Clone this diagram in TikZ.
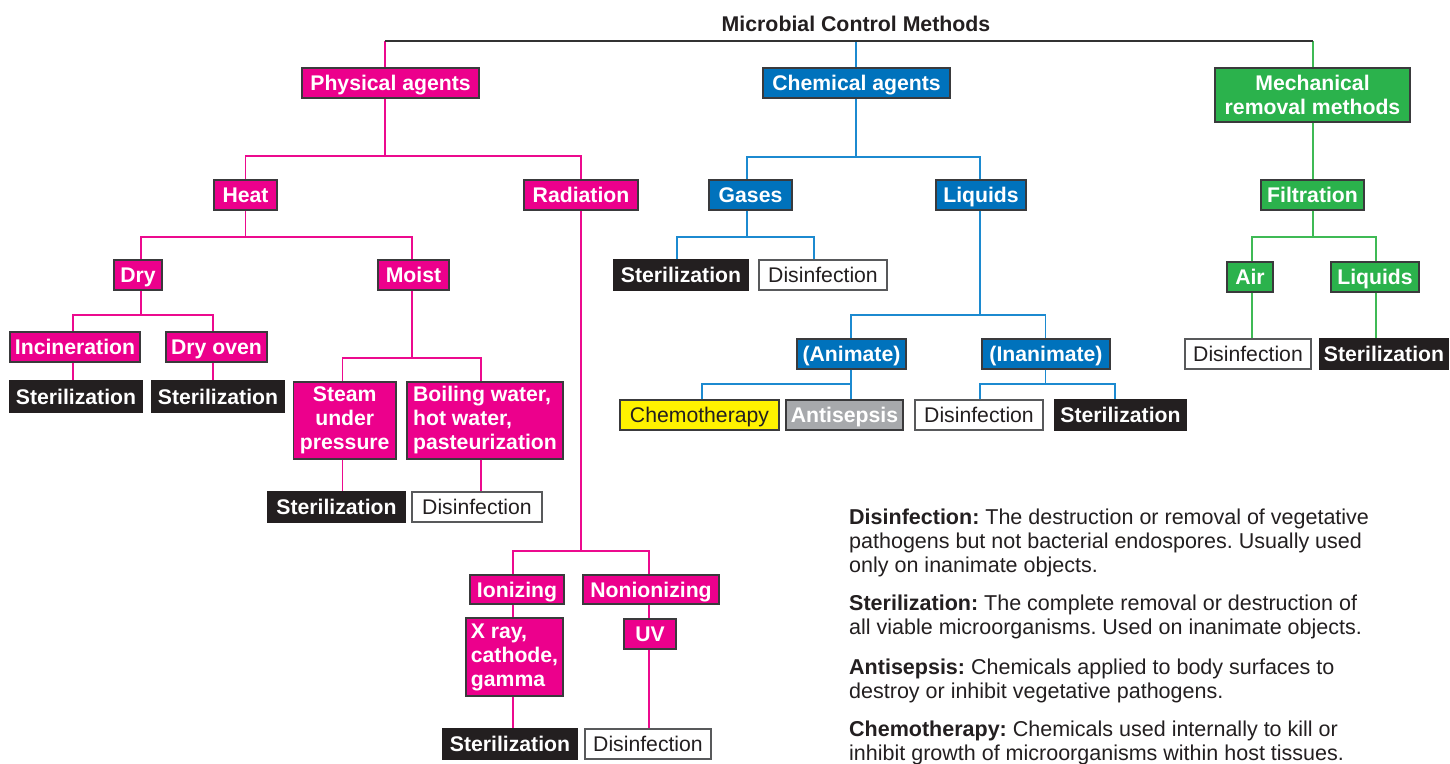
\documentclass[tikz,border=0pt]{standalone}
\usepackage{fontspec}
\setmainfont{Liberation Sans}
\frenchspacing
\definecolor{cmag}{HTML}{EC008C}
\definecolor{cpinkln}{HTML}{EC0A8E}
\definecolor{cblue}{HTML}{0072BC}
\definecolor{cblueln}{HTML}{1C8AD0}
\definecolor{cgreen}{HTML}{2BB24C}
\definecolor{cgreenln}{HTML}{3FBA55}
\definecolor{cblack}{HTML}{231F20}
\definecolor{cgray}{HTML}{A7A9AC}
\definecolor{cyellow}{HTML}{FFF200}
\definecolor{cborder}{HTML}{3A3A3C}
\definecolor{cwborder}{HTML}{58595B}
\definecolor{ctext}{HTML}{231F20}
\definecolor{cdark}{HTML}{333333}
\begin{document}
\begin{tikzpicture}[x=1pt,y=-1pt,
  box/.style={draw=cborder, line width=1.1pt, inner sep=0pt, text=white,
    font=\bfseries\fontsize{21.2}{24}\selectfont},
  oneline/.style={text height=15.2pt, text depth=0pt},
  wh/.style 2 args={minimum width=#1pt, minimum height=#2pt},
  magbox/.style={box, fill=cmag},
  bluebox/.style={box, fill=cblue},
  greenbox/.style={box, fill=cgreen},
  sterbox/.style={box, oneline, fill=cblack, draw=cblack},
  disbox/.style={box, oneline, fill=white, draw=cwborder, text=ctext,
    font=\fontsize{21.2}{24}\selectfont},
  chemobox/.style={box, oneline, fill=cyellow, text=ctext,
    font=\fontsize{21.2}{24}\selectfont},
  antibox/.style={box, oneline, fill=cgray},
  ln/.style={line width=1.8pt, line join=miter},
  pinkln/.style={ln, draw=cpinkln},
  blueln/.style={ln, draw=cblueln},
  greenln/.style={ln, draw=cgreenln},
  darkln/.style={ln, draw=cdark},
  legend/.style={anchor=base west, inner sep=0pt, text=ctext,
    font=\fontsize{21.5}{24}\selectfont},
]
\useasboundingbox (0,0) rectangle (1450,763);
\fill[white] (0,0) rectangle (1450,763);

% title
\node[anchor=base, inner sep=0pt, text=ctext, font=\bfseries\fontsize{21.3}{24}\selectfont]
  (title) at (856,31.7) {Microbial Control Methods};

% level 1
\node[magbox, oneline, wh={177}{30}] (phys) at (390.5,83) {Physical agents};
\node[bluebox, oneline, wh={187}{30}] (chem) at (856.5,83) {Chemical agents};
\node[greenbox, align=center, wh={195}{54}] (mech) at (1312.5,95) {Mechanical\\removal methods};

% level 2
\node[magbox, oneline, wh={63}{30}] (heat) at (245.5,195) {Heat};
\node[magbox, oneline, wh={114}{30}] (rad) at (581,195) {Radiation};
\node[bluebox, oneline, wh={83}{30}] (gases) at (750.5,195) {Gases};
\node[bluebox, oneline, wh={90}{30}] (liq) at (981,195) {Liquids};
\node[greenbox, oneline, wh={103}{30}] (filt) at (1312.5,195) {Filtration};

% level 3
\node[magbox, oneline, wh={48}{30}] (dry) at (138,275) {Dry};
\node[magbox, oneline, wh={71}{30}] (moist) at (413.5,275) {Moist};
\node[sterbox, wh={134}{30}] (gster) at (681,275) {Sterilization};
\node[disbox, wh={128}{30}] (gdis) at (823,275) {Disinfection};
\node[greenbox, oneline, wh={46}{30}] (air) at (1250,277) {Air};
\node[greenbox, oneline, wh={88}{30}] (fliq) at (1375,277) {Liquids};

% level 4
\node[magbox, oneline, wh={130}{30}] (incin) at (75,347) {Incineration};
\node[magbox, oneline, wh={101}{30}] (oven) at (216.5,347) {Dry oven};
\node[bluebox, oneline, wh={109}{30}] (anim) at (851.5,354) {(Animate)};
\node[bluebox, oneline, wh={128}{30}] (inan) at (1046,354) {(Inanimate)};
\node[disbox, wh={126}{30}] (adis) at (1248,354) {Disinfection};
\node[sterbox, wh={128}{30}] (aster) at (1384,354) {Sterilization};

\node[sterbox, wh={132}{31}] (ster1) at (76,396.5) {Sterilization};
\node[sterbox, wh={132}{31}] (ster2) at (218,396.5) {Sterilization};
\node[magbox, align=center, wh={102.5}{77}] (steam) at (344.75,420.5) {Steam\\under\\pressure};
\node[magbox, align=left, wh={156}{77}] (boil) at (485,420.5) {Boiling water,\\hot water,\\pasteurization};

\node[chemobox, wh={159}{30}] (chemo) at (699.5,415) {Chemotherapy};
\node[antibox, wh={117}{30}] (antis) at (844.5,415) {Antisepsis};
\node[disbox, wh={128}{30}] (idis) at (979,415) {Disinfection};
\node[sterbox, wh={131}{30}] (ister) at (1120.5,415) {Sterilization};

\node[sterbox, wh={137}{30}] (ster3) at (336.5,507) {Sterilization};
\node[disbox, wh={130}{30}] (dis3) at (477,507) {Disinfection};

\node[magbox, oneline, wh={94}{29}] (ion) at (517,589.5) {Ionizing};
\node[magbox, oneline, wh={136}{29}] (nonion) at (651,589.5) {Nonionizing};
\node[magbox, align=left, wh={97}{78}] (xray) at (514.5,657) {X ray,\\cathode,\\gamma};
\node[magbox, oneline, wh={52}{30}] (uv) at (650,634) {UV};
\node[sterbox, wh={134}{30}] (ster4) at (510,744) {Sterilization};
\node[disbox, wh={126}{30}] (dis4) at (648,744) {Disinfection};

% connectors: top
\coordinate (tl) at (385,41);
\coordinate (tr) at (1313,41);
\draw[pinkln] (tl) -- ([xshift=-5.5pt]phys.north);
\draw[blueln] ([xshift=-0.5pt]chem.north |- tl) -- ([xshift=-0.5pt]chem.north);
\draw[greenln] ([xshift=0.5pt]mech.north |- tr) -- ([xshift=0.5pt]mech.north);
\draw[darkln] (tl) -- (tr);

% physical
\coordinate (jp) at (385,156);
\draw[pinkln] ([xshift=-5.5pt]phys.south) -- (jp);
\draw[pinkln] (heat.north) |- (jp) -| (rad.north);
\coordinate (jh) at (245.5,237);
\draw[pinkln] (heat.south) -- (jh);
\draw[pinkln] ([xshift=3pt]dry.north) |- (jh) -| ([xshift=-1.5pt]moist.north);
\coordinate (jd) at (141,315);
\draw[pinkln] ([xshift=3pt]dry.south) -- (jd);
\draw[pinkln] ([xshift=-2pt]incin.north) |- (jd) -| ([xshift=-3.5pt]oven.north);
\draw[pinkln] ([xshift=-2pt]incin.south) -- ([xshift=-3pt]ster1.north);
\draw[pinkln] ([xshift=-3.5pt]oven.south) -- ([xshift=-5pt]ster2.north);
\coordinate (jm) at (412,358);
\draw[pinkln] ([xshift=-1.5pt]moist.south) -- (jm);
\draw[pinkln] ([xshift=-2.25pt]steam.north) |- (jm) -| ([xshift=-4pt]boil.north);
\draw[pinkln] ([xshift=-2.25pt]steam.south) -- ([xshift=6pt]ster3.north);
\draw[pinkln] ([xshift=-4pt]boil.south) -- ([xshift=4pt]dis3.north);
\coordinate (jr) at (581,551);
\draw[pinkln] (rad.south) -- (jr);
\draw[pinkln] ([xshift=-4pt]ion.north) |- (jr) -| ([xshift=-2pt]nonion.north);
\draw[pinkln] ([xshift=-4pt]ion.south) -- ([xshift=-1.5pt]xray.north);
\draw[pinkln] ([xshift=-1.5pt]xray.south) -- ([xshift=3pt]ster4.north);
\draw[pinkln] ([xshift=-2pt]nonion.south) -- ([xshift=-1pt]uv.north);
\draw[pinkln] ([xshift=-1pt]uv.south) -- ([xshift=1pt]dis4.north);

% chemical
\coordinate (jc) at (856,157);
\draw[blueln] ([xshift=-0.5pt]chem.south) -- (jc);
\draw[blueln] ([xshift=-3.5pt]gases.north) |- (jc) -| ([xshift=-1pt]liq.north);
\coordinate (jg) at (747,237);
\draw[blueln] ([xshift=-3.5pt]gases.south) -- (jg);
\draw[blueln] ([xshift=-4pt]gster.north) |- (jg) -| ([xshift=-9pt]gdis.north);
\coordinate (jl) at (980,315);
\draw[blueln] ([xshift=-1pt]liq.south) -- (jl);
\draw[blueln] ([xshift=-0.5pt]anim.north) |- (jl) -| ([xshift=-0.5pt]inan.north);
\coordinate (ja) at (851,384);
\draw[blueln] ([xshift=-0.5pt]anim.south) -- (ja);
\draw[blueln] ([xshift=2.5pt]chemo.north) |- (ja) -| ([xshift=6.5pt]antis.north);
\coordinate (ji) at (1045.5,384);
\draw[blueln] ([xshift=-0.5pt]inan.south) -- (ji);
\draw[blueln] ([xshift=1pt]idis.north) |- (ji) -| ([xshift=-5.5pt]ister.north);

% mechanical
\draw[greenln] ([xshift=0.5pt]mech.south) -- ([xshift=0.5pt]filt.north);
\coordinate (jf) at (1313,237);
\draw[greenln] ([xshift=0.5pt]filt.south) -- (jf);
\draw[greenln] ([xshift=2pt]air.north) |- (jf) -| ([xshift=1pt]fliq.north);
\draw[greenln] ([xshift=2pt]air.south) -- ([xshift=4pt]adis.north);
\draw[greenln] ([xshift=1pt]fliq.south) -- ([xshift=-8pt]aster.north);

% legend
\node[legend] (l1) at (849,524.3) {\textbf{Disinfection:} The destruction or removal of vegetative};
\node[legend] (l2) at (849,548.3) {pathogens but not bacterial endospores. Usually used};
\node[legend] (l3) at (849,572.3) {only on inanimate objects.};
\node[legend] (l4) at (849,610.7) {\textbf{Sterilization:} The complete removal or destruction of};
\node[legend] (l5) at (849,634.7) {all viable microorganisms. Used on inanimate objects.};
\node[legend] (l6) at (849,674) {\textbf{Antisepsis:} Chemicals applied to body surfaces to};
\node[legend] (l7) at (849,698) {destroy or inhibit vegetative pathogens.};
\node[legend] (l8) at (849,736.7) {\textbf{Chemotherapy:} Chemicals used internally to kill or};
\node[legend] (l9) at (849,760.7) {inhibit growth of microorganisms within host tissues.};
\end{tikzpicture}
\end{document}
